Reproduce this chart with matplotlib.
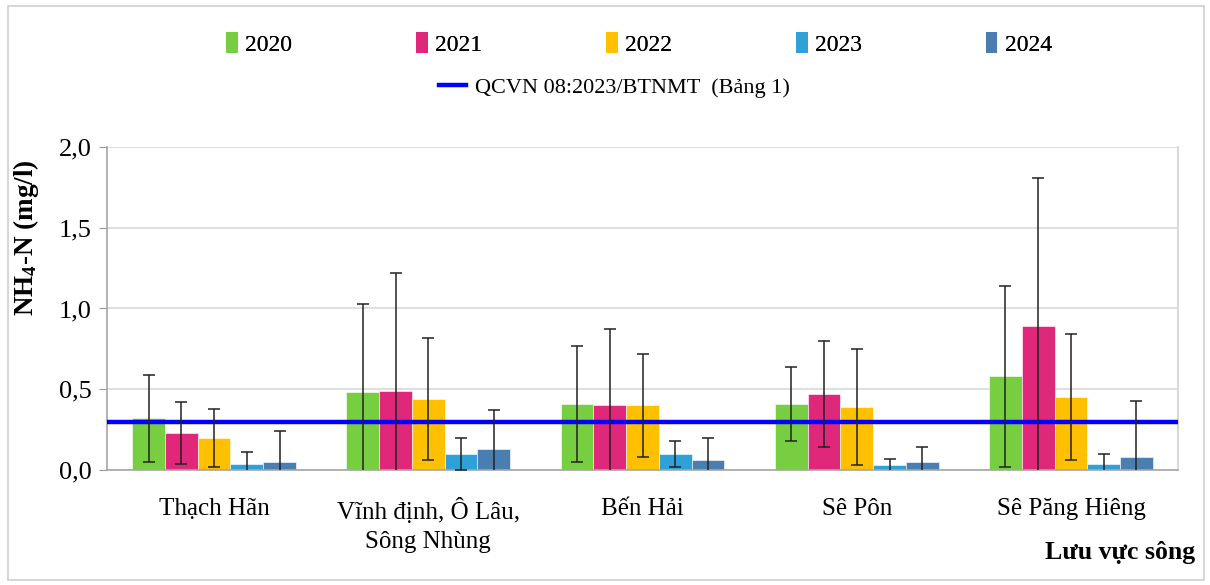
import matplotlib
matplotlib.use("Agg")
import matplotlib.pyplot as plt
import numpy as np
from matplotlib.lines import Line2D
from matplotlib.patches import Patch, Rectangle

plt.rcParams["font.family"] = ["Liberation Serif", "DejaVu Serif"]
plt.rcParams["mathtext.default"] = "regular"

basins = ["Thạch Hãn", "Vĩnh định, Ô Lâu,\nSông Nhùng", "Bến Hải", "Sê Pôn", "Sê Păng Hiêng"]
years = ["2020", "2021", "2022", "2023", "2024"]

# mean NH4-N per basin (mg/l)
mean_2020 = [0.32, 0.48, 0.41, 0.41, 0.58]
mean_2021 = [0.23, 0.49, 0.40, 0.47, 0.89]
mean_2022 = [0.20, 0.44, 0.40, 0.39, 0.45]
mean_2023 = [0.04, 0.10, 0.10, 0.03, 0.04]
mean_2024 = [0.05, 0.13, 0.06, 0.05, 0.08]

# standard deviation per basin (mg/l)
sd_2020 = [0.27, 0.55, 0.36, 0.23, 0.56]
sd_2021 = [0.19, 0.73, 0.47, 0.33, 0.92]
sd_2022 = [0.18, 0.38, 0.32, 0.36, 0.39]
sd_2023 = [0.07, 0.10, 0.08, 0.04, 0.06]
sd_2024 = [0.19, 0.24, 0.14, 0.09, 0.35]

limit_value = 0.3
limit_label = "QCVN 08:2023/BTNMT  (Bảng 1)"

means = [mean_2020, mean_2021, mean_2022, mean_2023, mean_2024]
sds = [sd_2020, sd_2021, sd_2022, sd_2023, sd_2024]
colors = ["#76CE40", "#E0287A", "#FFC000", "#30A0D8", "#4A7EB0"]

fig = plt.figure(figsize=(12.1, 5.85), dpi=100)
ax = fig.add_axes([0.0884, 0.1966, 0.8852, 0.5521])

x = np.arange(len(basins))
width = 0.153
for i, (year, m, s, c) in enumerate(zip(years, means, sds, colors)):
    pos = x + (i - 2) * width
    ax.bar(pos, m, width, color=c, edgecolor="white", linewidth=0.4, zorder=2)
    ax.errorbar(pos, m, yerr=s, fmt="none", ecolor="#222222", elinewidth=1.1,
                capsize=4.5, capthick=1.1, zorder=4)

ax.axhline(limit_value, color="#0000FF", linewidth=3.2, zorder=3)

ax.set_xlim(-0.5, len(basins) - 0.5)
ax.set_ylim(0, 2.0)
ticks = np.arange(0, 2.01, 0.5)
ax.set_yticks(ticks)
ax.set_yticklabels([f"{v:.1f}".replace(".", ",") for v in ticks], fontsize=19)
ax.set_xticks(x)
ax.set_xticklabels(basins, fontsize=18, linespacing=1.45)
ax.tick_params(axis="x", length=0, pad=20)
ax.tick_params(axis="y", length=6, color="#999999", direction="out", pad=5)
ax.yaxis.grid(True, color="#D9D9D9", linewidth=1.2, zorder=0)
ax.set_axisbelow(True)

for side in ["left", "bottom"]:
    ax.spines[side].set_color("#A6A6A6")
    ax.spines[side].set_linewidth(1.2)
ax.spines["right"].set_color("#D9D9D9")
ax.spines["right"].set_linewidth(1.5)
ax.spines["top"].set_visible(False)

ax.set_ylabel(r"NH$_4$-N (mg/l)", fontsize=19.5, fontweight="bold")
ax.yaxis.set_label_coords(-0.062, 0.72)
fig.text(0.988, 0.055, "Lưu vực sông", ha="right", va="center",
         fontsize=18.5, fontweight="bold")

bar_handles = [Patch(facecolor=c, edgecolor="none") for c in colors]
leg1 = fig.legend(bar_handles, years, loc="center", bbox_to_anchor=(0.528, 0.925),
                  ncol=5, frameon=False, fontsize=17, handlelength=0.5,
                  handleheight=1.0, handletextpad=0.3, columnspacing=5.25)
fig.add_artist(leg1)
line_handle = [Line2D([0], [0], color="#0000FF", linewidth=3.2)]
fig.legend(line_handle, [limit_label], loc="center", bbox_to_anchor=(0.508, 0.85),
           frameon=False, fontsize=16, handlelength=1.2, handletextpad=0.4)

# light frame around the whole figure
fig.patches.append(Rectangle((0.007, 0.008), 0.988, 0.982, transform=fig.transFigure,
                             fill=False, edgecolor="#D0D0D0", linewidth=1.2))

fig.savefig("out.png", dpi=100)
